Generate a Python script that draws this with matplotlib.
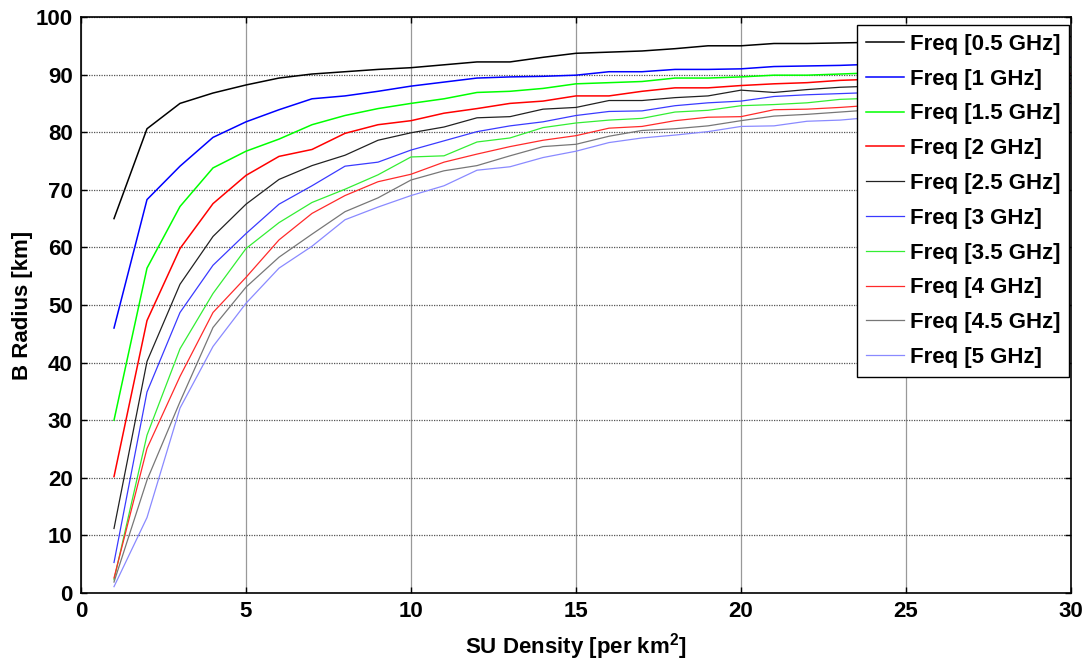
import matplotlib
matplotlib.use("Agg")
import matplotlib.pyplot as plt
import numpy as np

# SU density (per km^2)
density = np.arange(1, 31)

freq_labels = ["Freq [0.5 GHz]", "Freq [1 GHz]", "Freq [1.5 GHz]", "Freq [2 GHz]", "Freq [2.5 GHz]",
               "Freq [3 GHz]", "Freq [3.5 GHz]", "Freq [4 GHz]", "Freq [4.5 GHz]", "Freq [5 GHz]"]

radius_05 = [65.0, 80.6, 85.0, 86.8, 88.2, 89.4, 90.1, 90.5, 90.9, 91.2, 91.7, 92.2, 92.2, 93.0, 93.7,
             93.9, 94.1, 94.5, 95.0, 95.0, 95.4, 95.4, 95.5, 95.6, 95.8, 95.9, 96.1, 96.2, 96.4, 96.6]
radius_10 = [46.0, 68.3, 74.1, 79.1, 81.8, 83.9, 85.8, 86.3, 87.1, 88.0, 88.7, 89.4, 89.6, 89.7, 89.9,
             90.5, 90.5, 90.9, 90.9, 91.0, 91.4, 91.5, 91.6, 91.8, 92.0, 92.2, 92.4, 92.6, 92.8, 93.0]
radius_15 = [30.0, 56.4, 67.1, 73.8, 76.7, 78.8, 81.3, 82.9, 84.1, 85.0, 85.8, 86.9, 87.1, 87.6, 88.4,
             88.6, 88.8, 89.4, 89.4, 89.6, 89.9, 89.9, 90.1, 90.3, 90.5, 90.6, 90.8, 91.0, 91.1, 91.3]
radius_20 = [20.2, 47.3, 59.8, 67.6, 72.5, 75.8, 77.0, 79.8, 81.3, 82.0, 83.3, 84.1, 85.0, 85.4, 86.3,
             86.3, 87.1, 87.7, 87.7, 88.1, 88.4, 88.6, 89.0, 89.2, 89.3, 89.5, 89.7, 89.8, 90.0, 90.2]
radius_25 = [11.2, 40.2, 53.6, 61.9, 67.5, 71.8, 74.2, 76.0, 78.6, 79.9, 80.9, 82.5, 82.7, 84.0, 84.3,
             85.5, 85.5, 86.0, 86.3, 87.3, 86.9, 87.4, 87.8, 88.0, 88.2, 88.4, 88.6, 88.8, 89.0, 89.2]
radius_30 = [5.3, 34.9, 48.7, 56.9, 62.4, 67.5, 70.7, 74.1, 74.8, 76.9, 78.5, 80.1, 81.1, 81.8, 82.9,
             83.6, 83.7, 84.6, 85.1, 85.4, 86.2, 86.5, 86.7, 86.9, 87.1, 87.3, 87.6, 87.9, 88.2, 88.5]
radius_35 = [2.3, 27.4, 42.4, 52.0, 59.8, 64.3, 67.8, 70.1, 72.6, 75.7, 75.9, 78.3, 79.0, 80.8, 81.6,
             82.1, 82.4, 83.5, 83.8, 84.6, 84.8, 85.1, 85.7, 85.9, 86.1, 86.4, 86.7, 87.0, 87.3, 87.6]
radius_40 = [2.6, 25.1, 37.6, 48.7, 54.8, 61.3, 65.9, 69.0, 71.4, 72.7, 74.8, 76.2, 77.5, 78.6, 79.4,
             80.7, 81.0, 82.0, 82.6, 82.7, 83.9, 84.0, 84.3, 84.7, 85.1, 85.4, 85.7, 86.0, 86.4, 86.8]
radius_45 = [1.9, 19.6, 33.2, 46.1, 53.1, 58.3, 62.3, 66.2, 68.6, 71.7, 73.3, 74.2, 75.9, 77.5, 77.9,
             79.3, 80.3, 80.6, 81.1, 82.0, 82.8, 83.1, 83.5, 83.9, 84.2, 84.6, 84.9, 85.3, 85.7, 86.2]
radius_50 = [1.1, 13.1, 32.1, 42.8, 50.3, 56.4, 60.2, 64.8, 67.0, 69.0, 70.7, 73.4, 74.0, 75.6, 76.7,
             78.2, 79.0, 79.5, 80.1, 81.0, 81.1, 81.9, 82.1, 82.6, 83.0, 83.4, 83.8, 84.2, 84.6, 85.0]

radii = [radius_05, radius_10, radius_15, radius_20, radius_25,
         radius_30, radius_35, radius_40, radius_45, radius_50]
colors = ["#000000", "#0000ff", "#00ff00", "#ff0000", "#222222",
          "#3a3aff", "#33ee33", "#ff2a2a", "#777777", "#8a8aff"]
widths = [1.1, 1.1, 1.1, 1.1, 0.9, 0.9, 0.9, 0.9, 0.9, 0.9]

plt.rcParams["font.family"] = ["Liberation Sans", "DejaVu Sans"]
plt.rcParams["font.weight"] = "bold"
plt.rcParams["mathtext.fontset"] = "custom"
plt.rcParams["mathtext.rm"] = "Liberation Sans:bold"
plt.rcParams["mathtext.bf"] = "Liberation Sans:bold"
plt.rcParams["mathtext.default"] = "rm"

fig = plt.figure(figsize=(10.92, 6.66), dpi=100)
ax = fig.add_axes([81 / 1092, 1 - 593 / 666, 990 / 1092, 576 / 666])

for r, c, lw, lab in zip(radii, colors, widths, freq_labels):
    ax.plot(density, r, color=c, linewidth=lw, label=lab)

ax.set_xlim(0, 30)
ax.set_ylim(0, 100)
ax.set_xticks(np.arange(0, 31, 5))
ax.set_yticks(np.arange(0, 101, 10))
ax.grid(axis="x", color="#999999", linestyle="-", linewidth=0.9)
ax.grid(axis="y", color="#555555", linestyle=(0, (1, 1)), linewidth=0.9)
ax.set_axisbelow(True)
ax.tick_params(direction="in", length=4, width=1, top=True, right=True,
               labelsize=16, pad=6)
for s in ax.spines.values():
    s.set_linewidth(1.2)

ax.set_xlabel("SU Density [per km$^2$]", fontsize=16, fontweight="bold", labelpad=6)
ax.set_ylabel("B Radius [km]", fontsize=16, fontweight="bold", labelpad=1.5)

leg = ax.legend(loc="upper right", bbox_to_anchor=(1069 / 1092, 1 - 25 / 666),
                bbox_transform=fig.transFigure, borderaxespad=0,
                prop={"weight": "bold", "size": 16}, handlelength=1.7, handletextpad=0.25,
                labelspacing=0.62, borderpad=0.4, fancybox=False, framealpha=1,
                edgecolor="black")
leg.get_frame().set_linewidth(1.0)

fig.savefig("out.png", dpi=100)
